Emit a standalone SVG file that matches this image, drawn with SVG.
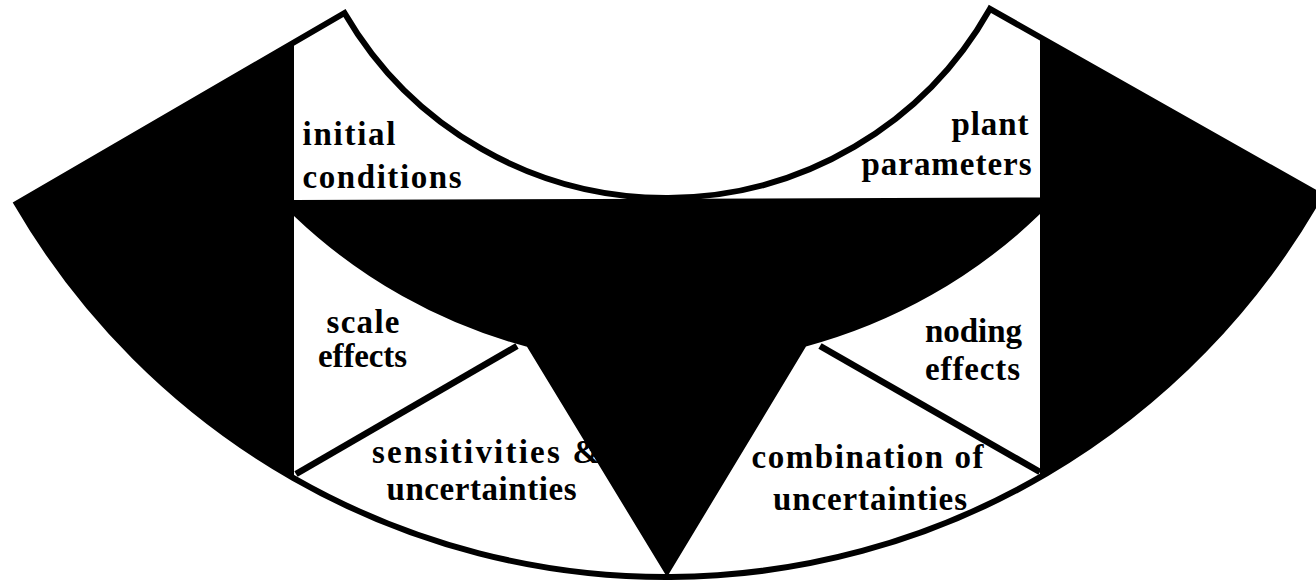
<svg xmlns="http://www.w3.org/2000/svg" width="1316" height="584" viewBox="0 0 1316 584">
  <style>
    .lbl { font-family: "Liberation Serif", "Times New Roman", serif; font-weight: bold; font-size: 33px; fill: #000; }
    .blk { fill: #000; stroke: none; }
    .div { stroke: #000; stroke-width: 6.5; fill: none; }
    .outline { fill: none; stroke: #000; stroke-width: 6; stroke-linejoin: miter; }
  </style>
  <rect width="1316" height="584" fill="#fff"/>
  <g id="sector-bg">
    <path d="M344.5,13 A372,372 0 0,0 989.9,8.9 L1319.9,195.4 A751,751 0 0,1 16.8,203.5 Z" fill="#fff"/>
  </g>
  <g id="node-initial-conditions">
    <text class="lbl" x="302.5" y="145" textLength="93" lengthAdjust="spacing">initial</text>
    <text class="lbl" x="302.5" y="188" textLength="159" lengthAdjust="spacing">conditions</text>
  </g>
  <g id="node-plant-parameters">
    <text class="lbl" x="951.5" y="135" textLength="77" lengthAdjust="spacing">plant</text>
    <text class="lbl" x="861.5" y="175" textLength="170" lengthAdjust="spacing">parameters</text>
  </g>
  <g id="node-scale-effects">
    <text class="lbl" x="326.5" y="333" textLength="73" lengthAdjust="spacing">scale</text>
    <text class="lbl" x="318" y="367" textLength="89" lengthAdjust="spacing">effects</text>
  </g>
  <g id="node-sensitivities">
    <text class="lbl" x="372" y="463" letter-spacing="2.2">sensitivities &amp;</text>
    <text class="lbl" x="386.5" y="500" textLength="190" lengthAdjust="spacing">uncertainties</text>
  </g>
  <g id="node-combination">
    <text class="lbl" x="751.5" y="468" textLength="232" lengthAdjust="spacing">combination of</text>
    <text class="lbl" x="773" y="510" textLength="194" lengthAdjust="spacing">uncertainties</text>
  </g>
  <g id="node-noding-effects">
    <text class="lbl" x="925" y="342" textLength="97" lengthAdjust="spacing">noding</text>
    <text class="lbl" x="925" y="380" textLength="95" lengthAdjust="spacing">effects</text>
  </g>
  <g id="black-regions">
    <path class="blk" d="M294,42.3 L294,478.4 A751,751 0 0,1 16.8,203.5 Z"/>
    <path class="blk" d="M1040,37.2 L1040,477.3 A751,751 0 0,0 1319.9,195.4 Z"/>
    <path class="blk" d="M294,200 L1040,197.5 L1040,214.1 A539,539 0 0,1 806,346.5 L667,577 L527,346.8 A539,539 0 0,1 294,216 Z"/>
  </g>
  <g id="connectors">
    <line class="div" x1="296" y1="474" x2="517" y2="346"/>
    <line class="div" x1="820" y1="346" x2="1040" y2="472"/>
    <path class="outline" d="M344.5,13 A372,372 0 0,0 989.9,8.9 L1319.9,195.4 A751,751 0 0,1 16.8,203.5 Z"/>
  </g>
</svg>
